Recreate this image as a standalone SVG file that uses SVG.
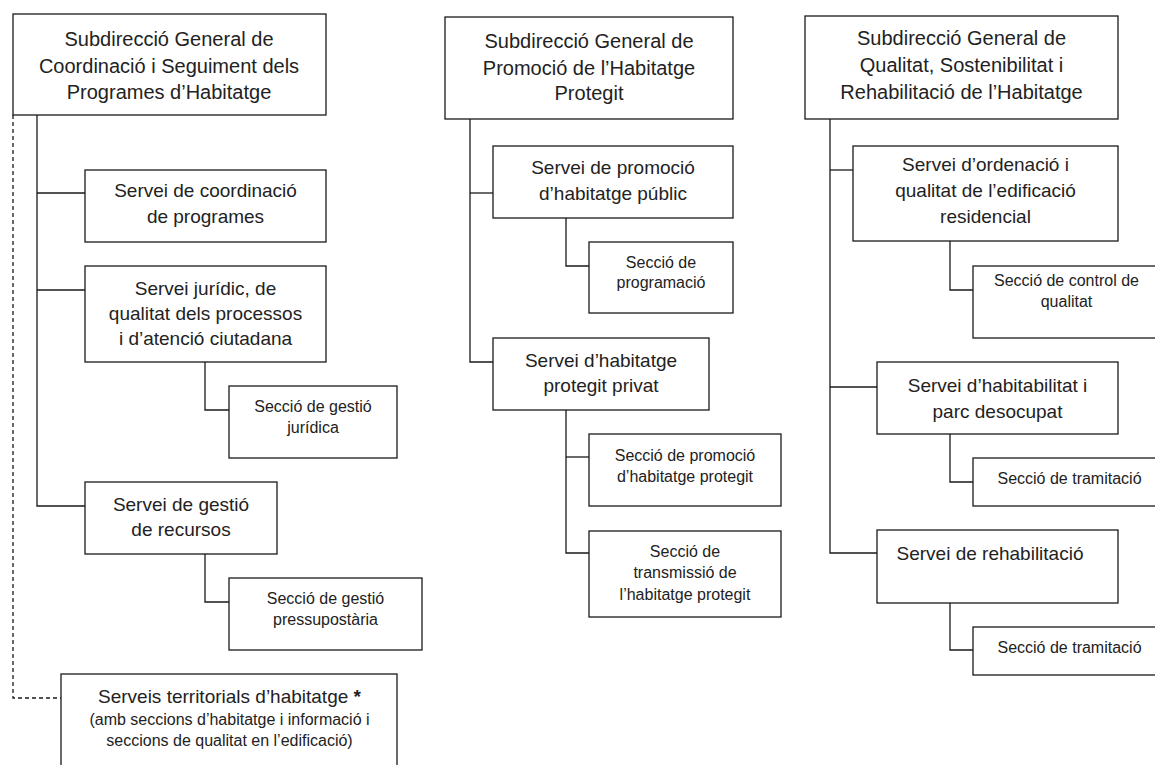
<svg xmlns="http://www.w3.org/2000/svg" width="1155" height="765" viewBox="0 0 1155 765">
<style>
  .box { fill: #ffffff; stroke: #1a1a1a; stroke-width: 1.3; }
  .ln { fill: none; stroke: #1a1a1a; stroke-width: 1.3; }
  .dash { fill: none; stroke: #1a1a1a; stroke-width: 1.3; stroke-dasharray: 4 3; }
  text { font-family: "Liberation Sans", Arial, sans-serif; fill: #222222; text-anchor: middle; }
  .t1 { font-size: 20px; }
  .t2 { font-size: 19px; }
  .t3 { font-size: 16px; }
  .b { font-weight: bold; }
</style>
<rect width="1155" height="765" fill="#ffffff"/>
<g id="connectors">
  <polyline class="dash" points="13,115 13,698 61,698"/>
  <polyline class="ln" points="37,115 37,506 85,506"/>
  <line class="ln" x1="37" y1="193" x2="85" y2="193"/>
  <line class="ln" x1="37" y1="290" x2="85" y2="290"/>
  <polyline class="ln" points="205,362 205,410 229,410"/>
  <polyline class="ln" points="205,554 205,602 229,602"/>
  <polyline class="ln" points="470,119 470,362 493,362"/>
  <line class="ln" x1="470" y1="193" x2="493" y2="193"/>
  <polyline class="ln" points="566,218 566,266 589,266"/>
  <polyline class="ln" points="566,410 566,553 589,553"/>
  <line class="ln" x1="566" y1="457" x2="589" y2="457"/>
  <polyline class="ln" points="830,119 830,553 877,553"/>
  <line class="ln" x1="830" y1="170" x2="853" y2="170"/>
  <line class="ln" x1="830" y1="387" x2="877" y2="387"/>
  <polyline class="ln" points="950,241 950,290 973,290"/>
  <polyline class="ln" points="950,434 950,482 973,482"/>
  <polyline class="ln" points="950,603 950,650 973,650"/>
</g>
<g id="sg-coordinacio">
  <rect class="box" x="13" y="14" width="313" height="101"/>
  <text class="t1" x="169" y="46">Subdirecció General de</text>
  <text class="t1" x="169" y="72.5">Coordinació i Seguiment dels</text>
  <text class="t1" x="169" y="99">Programes d’Habitatge</text>
</g>
<g id="servei-coordinacio">
  <rect class="box" x="85" y="170" width="241" height="72"/>
  <text class="t2" x="205.5" y="197">Servei de coordinació</text>
  <text class="t2" x="205.5" y="223">de programes</text>
</g>
<g id="servei-juridic">
  <rect class="box" x="85" y="266" width="241" height="96"/>
  <text class="t2" x="205.5" y="295">Servei jurídic, de</text>
  <text class="t2" x="205.5" y="320">qualitat dels processos</text>
  <text class="t2" x="205.5" y="345">i d’atenció ciutadana</text>
</g>
<g id="seccio-gestio-juridica">
  <rect class="box" x="229" y="386" width="168" height="72"/>
  <text class="t3" x="313" y="412">Secció de gestió</text>
  <text class="t3" x="313" y="433">jurídica</text>
</g>
<g id="servei-gestio-recursos">
  <rect class="box" x="85" y="482" width="192" height="72"/>
  <text class="t2" x="181" y="511">Servei de gestió</text>
  <text class="t2" x="181" y="536">de recursos</text>
</g>
<g id="seccio-pressupostaria">
  <rect class="box" x="229" y="578" width="193" height="72"/>
  <text class="t3" x="325.5" y="604">Secció de gestió</text>
  <text class="t3" x="325.5" y="625">pressupostària</text>
</g>
<g id="serveis-territorials">
  <rect class="box" x="61" y="674" width="336" height="100"/>
  <text class="t2" x="229.5" y="703">Serveis territorials d’habitatge <tspan class="b">*</tspan></text>
  <text class="t3" x="229.5" y="725">(amb seccions d’habitatge i informació i</text>
  <text class="t3" x="229.5" y="746">seccions de qualitat en l’edificació)</text>
</g>
<g id="sg-promocio">
  <rect class="box" x="445" y="17" width="288" height="102"/>
  <text class="t1" x="589" y="48">Subdirecció General de</text>
  <text class="t1" x="589" y="75">Promoció de l’Habitatge</text>
  <text class="t1" x="589" y="100">Protegit</text>
</g>
<g id="servei-promocio-public">
  <rect class="box" x="493" y="146" width="240" height="72"/>
  <text class="t2" x="613" y="174">Servei de promoció</text>
  <text class="t2" x="613" y="200">d’habitatge públic</text>
</g>
<g id="seccio-programacio">
  <rect class="box" x="589" y="242" width="144" height="71"/>
  <text class="t3" x="661" y="268">Secció de</text>
  <text class="t3" x="661" y="288">programació</text>
</g>
<g id="servei-protegit-privat">
  <rect class="box" x="493" y="338" width="216" height="72"/>
  <text class="t2" x="601" y="367">Servei d’habitatge</text>
  <text class="t2" x="601" y="392">protegit privat</text>
</g>
<g id="seccio-promocio-protegit">
  <rect class="box" x="589" y="434" width="192" height="72"/>
  <text class="t3" x="685" y="461">Secció de promoció</text>
  <text class="t3" x="685" y="482">d’habitatge protegit</text>
</g>
<g id="seccio-transmissio">
  <rect class="box" x="589" y="531" width="192" height="86"/>
  <text class="t3" x="685" y="557">Secció de</text>
  <text class="t3" x="685" y="578">transmissió de</text>
  <text class="t3" x="685" y="600">l’habitatge protegit</text>
</g>
<g id="sg-qualitat">
  <rect class="box" x="805" y="16" width="313" height="103"/>
  <text class="t1" x="961.5" y="45">Subdirecció General de</text>
  <text class="t1" x="961.5" y="72">Qualitat, Sostenibilitat i</text>
  <text class="t1" x="961.5" y="99">Rehabilitació de l’Habitatge</text>
</g>
<g id="servei-ordenacio">
  <rect class="box" x="853" y="146" width="265" height="95"/>
  <text class="t2" x="985.5" y="171">Servei d’ordenació i</text>
  <text class="t2" x="985.5" y="197">qualitat de l’edificació</text>
  <text class="t2" x="985.5" y="223">residencial</text>
</g>
<g id="seccio-control-qualitat">
  <rect class="box" x="973" y="266" width="190" height="72"/>
  <text class="t3" x="1066.5" y="286">Secció de control de</text>
  <text class="t3" x="1066.5" y="307">qualitat</text>
</g>
<g id="servei-habitabilitat">
  <rect class="box" x="877" y="362" width="241" height="72"/>
  <text class="t2" x="997.5" y="392">Servei d’habitabilitat i</text>
  <text class="t2" x="997.5" y="418">parc desocupat</text>
</g>
<g id="seccio-tramitacio-1">
  <rect class="box" x="973" y="458" width="190" height="48"/>
  <text class="t3" x="1069.5" y="484">Secció de tramitació</text>
</g>
<g id="servei-rehabilitacio">
  <rect class="box" x="877" y="530" width="241" height="73"/>
  <text class="t2" x="990" y="560">Servei de rehabilitació</text>
</g>
<g id="seccio-tramitacio-2">
  <rect class="box" x="973" y="627" width="190" height="48"/>
  <text class="t3" x="1069.5" y="653">Secció de tramitació</text>
</g>
</svg>
